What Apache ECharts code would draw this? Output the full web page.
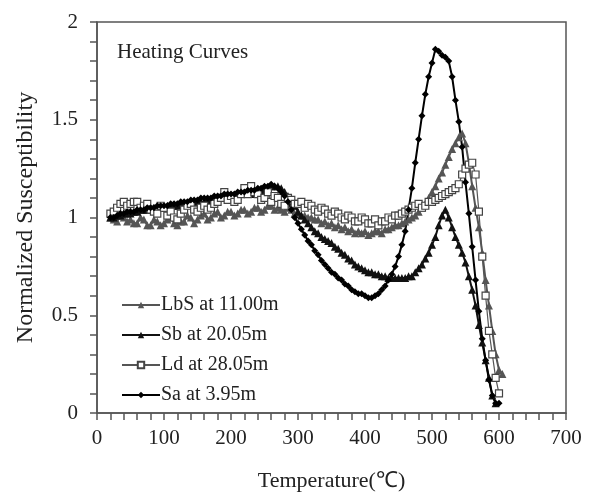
<!DOCTYPE html>
<html>
<head>
<meta charset="utf-8">
<script src="https://cdn.jsdelivr.net/npm/echarts@6/dist/echarts.min.js"></script>
<style>html,body{margin:0;padding:0;background:#fff}#c{width:596px;height:497px}</style>
</head>
<body>
<div id="c"></div>
<script>
// Temperature steps (°C) shared by all series; each series uses as many as it has values
const temps = [
  20,25,30,35,40,45,50,55,60,65,
  70,75,80,85,90,95,100,105,110,115,
  120,125,130,135,140,145,150,155,160,165,
  170,175,180,185,190,195,200,205,210,215,
  220,225,230,235,240,245,250,255,260,265,
  270,275,280,285,290,295,300,305,310,315,
  320,325,330,335,340,345,350,355,360,365,
  370,375,380,385,390,395,400,405,410,415,
  420,425,430,435,440,445,450,455,460,465,
  470,475,480,485,490,495,500,505,510,515,
  520,525,530,535,540,545,550,555,560,565,
  570,575,580,585,590,595,600,605
];
// LbS at 11.00m (gray triangles)
const lbsV = [
  1.00,0.99,0.98,1.01,1.00,0.98,0.99,0.97,0.97,1.00,
  0.99,0.96,0.96,0.99,0.98,0.96,0.97,0.99,1.00,0.97,
  0.96,0.98,0.98,1.01,1.00,0.97,0.99,1.01,1.02,0.99,
  1.00,1.02,1.03,1.00,1.01,1.03,1.03,1.01,1.02,1.04,
  1.04,1.02,1.03,1.05,1.05,1.03,1.04,1.06,1.06,1.04,
  1.05,1.04,1.03,1.05,1.04,1.02,1.02,1.01,1.01,1.00,
  1.00,0.99,0.99,0.97,0.98,0.96,0.97,0.95,0.96,0.94,
  0.95,0.93,0.94,0.92,0.93,0.92,0.93,0.91,0.92,0.93,
  0.93,0.92,0.94,0.94,0.95,0.96,0.96,0.97,0.98,0.99,
  1.00,1.01,1.03,1.05,1.07,1.10,1.13,1.16,1.20,1.23,
  1.27,1.31,1.35,1.38,1.41,1.43,1.38,1.28,1.16,1.05,
  0.95,0.82,0.68,0.55,0.42,0.30,0.22,0.20
];
// Sb at 20.05m (black triangles)
const sbV = [
  1.00,1.00,1.01,1.01,1.02,1.02,1.02,1.03,1.03,1.04,
  1.04,1.04,1.04,1.05,1.05,1.05,1.05,1.06,1.06,1.06,
  1.06,1.07,1.07,1.07,1.07,1.08,1.08,1.08,1.08,1.09,
  1.09,1.10,1.10,1.10,1.10,1.11,1.11,1.11,1.11,1.12,
  1.12,1.12,1.12,1.13,1.13,1.14,1.14,1.15,1.16,1.16,
  1.16,1.15,1.13,1.11,1.08,1.06,1.03,1.01,0.99,0.97,
  0.95,0.93,0.92,0.90,0.89,0.88,0.87,0.85,0.84,0.82,
  0.81,0.79,0.78,0.76,0.75,0.74,0.73,0.72,0.72,0.71,
  0.71,0.70,0.70,0.69,0.69,0.69,0.69,0.69,0.69,0.70,
  0.70,0.72,0.74,0.76,0.79,0.82,0.86,0.90,0.96,1.01,
  1.04,1.00,0.95,0.90,0.86,0.82,0.77,0.70,0.63,0.55,
  0.45,0.36,0.27,0.18,0.09,0.05
];
// Ld at 28.05m (open squares)
const ldV = [
  1.02,1.03,1.05,1.07,1.08,1.06,1.07,1.08,1.08,1.05,
  1.06,1.07,1.04,1.03,1.02,1.06,1.05,1.01,1.03,1.00,
  0.99,1.02,1.04,1.06,1.07,1.04,1.03,1.05,1.06,1.04,
  1.05,1.07,1.08,1.10,1.13,1.09,1.11,1.08,1.09,1.12,
  1.15,1.12,1.16,1.13,1.12,1.09,1.10,1.13,1.08,1.11,
  1.10,1.07,1.06,1.10,1.09,1.07,1.07,1.08,1.05,1.07,
  1.06,1.04,1.03,1.05,1.04,1.02,1.01,1.03,1.02,1.00,
  0.99,1.01,1.00,0.98,0.98,1.00,0.99,0.97,0.97,0.99,
  0.96,0.98,0.98,1.00,0.99,1.01,1.01,1.02,1.03,1.04,
  1.05,1.06,1.07,1.05,1.06,1.08,1.08,1.09,1.10,1.11,
  1.12,1.13,1.14,1.15,1.17,1.22,1.25,1.27,1.28,1.22,
  1.03,0.80,0.60,0.42,0.30,0.18,0.10
];
// Sa at 3.95m (black diamonds)
const saV = [
  1.00,1.00,1.01,1.02,1.02,1.03,1.03,1.03,1.04,1.04,
  1.04,1.05,1.05,1.05,1.06,1.06,1.06,1.06,1.07,1.07,
  1.07,1.08,1.08,1.08,1.09,1.09,1.09,1.10,1.10,1.10,
  1.10,1.11,1.11,1.11,1.12,1.12,1.12,1.12,1.13,1.13,
  1.13,1.14,1.14,1.14,1.15,1.15,1.16,1.16,1.17,1.16,
  1.15,1.13,1.11,1.08,1.04,1.00,0.97,0.94,0.91,0.88,
  0.86,0.83,0.81,0.78,0.76,0.74,0.72,0.71,0.69,0.68,
  0.66,0.65,0.63,0.62,0.61,0.61,0.60,0.59,0.59,0.60,
  0.61,0.63,0.65,0.68,0.71,0.75,0.80,0.86,0.93,1.04,
  1.15,1.28,1.40,1.52,1.63,1.72,1.79,1.86,1.85,1.83,
  1.82,1.80,1.72,1.60,1.49,1.36,1.18,1.02,0.85,0.68,
  0.52,0.38,0.27,0.17,0.09,0.05,0.05
];

const xTicks = [0,100,200,300,400,500,600,700];
const yTicks = [0,0.5,1,1.5,2];
const seriesNames = ['LbS at 11.00m','Sb at 20.05m','Ld at 28.05m','Sa at 3.95m'];

const pair = (v) => v.map((y, i) => [temps[i], y]);
const FONT = 'Liberation Serif';

const chart = echarts.init(document.getElementById('c'), null, {renderer: 'canvas'});
chart.setOption({
  animation: false,
  backgroundColor: '#fff',
  grid: {left: 97, right: 30, top: 22, bottom: 84, show: true, borderColor: '#555', borderWidth: 1.5, backgroundColor: 'transparent'},
  title: {text: 'Heating Curves', left: 112, top: 37, textStyle: {fontFamily: FONT, fontSize: 21, fontWeight: 'normal', color: '#222'}},
  legend: {
    orient: 'vertical', left: 116, top: 290, itemWidth: 38, itemHeight: 8, itemGap: 10,
    data: seriesNames,
    textStyle: {fontFamily: FONT, fontSize: 20, color: '#222', padding: [0,0,0,-4]}
  },
  xAxis: {
    type: 'value', min: xTicks[0], max: xTicks[xTicks.length-1], interval: 100,
    name: 'Temperature(℃)', nameLocation: 'middle', nameGap: 57,
    nameTextStyle: {fontFamily: FONT, fontSize: 22, color: '#222'},
    axisLine: {lineStyle: {color: '#555', width: 1.5}},
    axisTick: {length: 7, lineStyle: {color: '#555', width: 1.5}},
    minorTick: {show: true, splitNumber: 5, length: 7, lineStyle: {color: '#555', width: 1.5}},
    splitLine: {show: false},
    axisLabel: {fontFamily: FONT, fontSize: 21, color: '#222', margin: 15}
  },
  yAxis: {
    type: 'value', min: yTicks[0], max: yTicks[yTicks.length-1], interval: 0.5,
    name: 'Normalized Susceptibility', nameLocation: 'middle', nameGap: 59,
    nameTextStyle: {fontFamily: FONT, fontSize: 24, color: '#222'},
    axisLine: {lineStyle: {color: '#555', width: 1.5}},
    axisTick: {length: 7, lineStyle: {color: '#555', width: 1.5}},
    minorTick: {show: true, splitNumber: 5, length: 7, lineStyle: {color: '#555', width: 1.5}},
    splitLine: {show: false},
    axisLabel: {fontFamily: FONT, fontSize: 21, color: '#222', margin: 19}
  },
  series: [
    {name: seriesNames[0], type: 'line', data: pair(lbsV), symbol: 'triangle', symbolSize: 8,
     lineStyle: {color: '#555', width: 2}, itemStyle: {color: '#555'}},
    {name: seriesNames[1], type: 'line', data: pair(sbV), symbol: 'triangle', symbolSize: 8,
     lineStyle: {color: '#111', width: 2}, itemStyle: {color: '#111'}},
    {name: seriesNames[2], type: 'line', data: pair(ldV), symbol: 'rect', symbolSize: 7,
     lineStyle: {color: '#555', width: 1.2}, itemStyle: {color: '#fff', borderColor: '#444', borderWidth: 1.2}},
    {name: seriesNames[3], type: 'line', data: pair(saV), symbol: 'diamond', symbolSize: 7,
     lineStyle: {color: '#000', width: 2}, itemStyle: {color: '#000'}}
  ]
});
</script>
</body>
</html>
